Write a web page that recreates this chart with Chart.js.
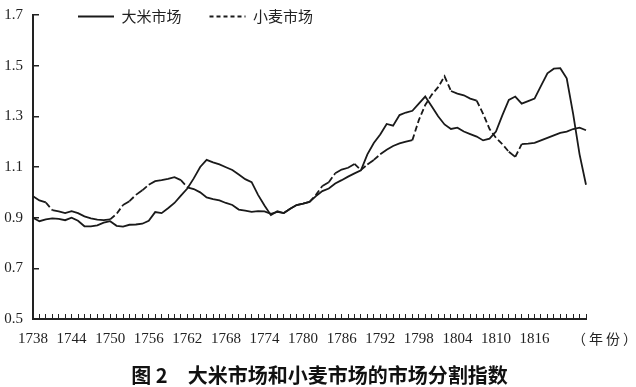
<!DOCTYPE html>
<html>
<head>
<meta charset="utf-8">
<script src="https://cdn.jsdelivr.net/npm/chart.js@4"></script>
<style>
  html, body { margin: 0; padding: 0; background: #fff; }
  #wrap { width: 636px; height: 387px; }
</style>
</head>
<body>
<div id="wrap"><canvas id="myChart" width="636" height="387"></canvas></div>
<script>
const years = [
  1738, 1739, 1740, 1741, 1742, 1743, 1744, 1745, 1746, 1747,
  1748, 1749, 1750, 1751, 1752, 1753, 1754, 1755, 1756, 1757,
  1758, 1759, 1760, 1761, 1762, 1763, 1764, 1765, 1766, 1767,
  1768, 1769, 1770, 1771, 1772, 1773, 1774, 1775, 1776, 1777,
  1778, 1779, 1780, 1781, 1782, 1783, 1784, 1785, 1786, 1787,
  1788, 1789, 1790, 1791, 1792, 1793, 1794, 1795, 1796, 1797,
  1798, 1799, 1800, 1801, 1802, 1803, 1804, 1805, 1806, 1807,
  1808, 1809, 1810, 1811, 1812, 1813, 1814, 1815, 1816, 1817,
  1818, 1819, 1820, 1821, 1822, 1823, 1824
];
const tickYears = [1738, 1744, 1750, 1756, 1762, 1768, 1774, 1780, 1786, 1792, 1798, 1804, 1810, 1816];
const yTicks = [0.5, 0.7, 0.9, 1.1, 1.3, 1.5, 1.7];

// 大米市场
const rice = [
  0.900, 0.886, 0.893, 0.897, 0.895, 0.890, 0.900, 0.888, 0.866, 0.866,
  0.870, 0.880, 0.886, 0.868, 0.865, 0.872, 0.873, 0.876, 0.888, 0.922,
  0.918, 0.937, 0.958, 0.987, 1.015, 1.055, 1.100, 1.128, 1.118, 1.110,
  1.099, 1.088, 1.070, 1.052, 1.040, 0.990, 0.948, 0.910, 0.925, 0.918,
  0.935, 0.950, 0.955, 0.962, 0.985, 1.005, 1.015, 1.035, 1.048, 1.062,
  1.075, 1.087, 1.150, 1.195, 1.228, 1.270, 1.263, 1.305, 1.315, 1.322,
  1.350, 1.378, 1.340, 1.300, 1.268, 1.250, 1.255, 1.240, 1.230, 1.220,
  1.205, 1.212, 1.240, 1.305, 1.365, 1.378, 1.350, 1.360, 1.370, 1.420,
  1.470, 1.488, 1.490, 1.450, 1.310, 1.150, 1.030
];

// 小麦市场
const wheat = [
  0.985, 0.968, 0.960, 0.930, 0.925, 0.918, 0.926, 0.918, 0.905, 0.897,
  0.892, 0.890, 0.893, 0.915, 0.950, 0.965, 0.990, 1.008, 1.030, 1.044,
  1.048, 1.053, 1.060, 1.048, 1.020, 1.013, 1.000, 0.980, 0.973, 0.968,
  0.958, 0.950, 0.932, 0.928, 0.923, 0.926, 0.925, 0.915, 0.923, 0.918,
  0.935, 0.950, 0.955, 0.962, 0.990, 1.025, 1.040, 1.075, 1.090, 1.097,
  1.112, 1.088, 1.110, 1.128, 1.150, 1.168, 1.183, 1.193, 1.200, 1.206,
  1.285, 1.345, 1.385, 1.415, 1.458, 1.400, 1.390, 1.383, 1.370, 1.362,
  1.310, 1.250, 1.215, 1.190, 1.160, 1.140, 1.190, 1.192, 1.195, 1.205,
  1.215, 1.225, 1.235, 1.240, 1.250, 1.255, 1.245
];

const serif = "'Liberation Serif', 'DejaVu Serif', serif";
const cjk = "'Noto Sans CJK SC', sans-serif";

// legend sits inside the plot, above the lines
const legendInPlot = {
  id: 'legendInPlot',
  beforeInit(chart) {
    const legend = chart.legend;
    const fit = legend.fit;
    legend.fit = function () {
      fit.call(this);
      this.height = 0;
    };
  },
  afterLayout(chart) {
    const legend = chart.legend;
    const pad = chart.options.plugins.legend.labels.padding;
    legend.left = 78 - pad;
    legend.top = 9 - pad;
    legend.right = chart.chartArea.right;
    legend.bottom = 40;
  }
};

// unit text after the last year label
const unitLabel = {
  id: 'unitLabel',
  afterDraw(chart) {
    const ctx = chart.ctx;
    const x = chart.scales.x;
    ctx.save();
    ctx.font = "14px " + cjk;
    ctx.fillStyle = '#222';
    ctx.textAlign = 'left';
    ctx.textBaseline = 'middle';
    ctx.letterSpacing = '3px';
    ctx.fillText('（年份）', x.right - 14, x.top + 20);
    ctx.restore();
  }
};

const steepDash = function (ctx) {
  const len = Math.hypot(ctx.p1.x - ctx.p0.x, ctx.p1.y - ctx.p0.y);
  return len > 8.5 ? [6, 3] : [];
};

const ctx = document.getElementById('myChart').getContext('2d');
new Chart(ctx, {
  type: 'line',
  data: {
    labels: years,
    datasets: [
      {
        label: '大米市场',
        data: rice,
        borderColor: '#1a1a1a',
        borderWidth: 1.8,
        pointRadius: 0,
        tension: 0,
        fill: false
      },
      {
        label: '小麦市场',
        data: wheat,
        borderColor: '#1a1a1a',
        borderWidth: 1.8,
        borderDash: [4, 3],
        pointRadius: 0,
        tension: 0,
        fill: false,
        segment: { borderDash: steepDash }
      }
    ]
  },
  options: {
    responsive: false,
    animation: false,
    layout: { padding: { top: 15, left: 3, right: 0, bottom: 0 } },
    scales: {
      x: {
        type: 'category',
        offset: false,
        border: { display: true, color: '#222', width: 2 },
        grid: {
          display: true,
          drawOnChartArea: false,
          drawTicks: true,
          tickLength: -5,
          color: '#222',
          lineWidth: 1
        },
        afterFit: function (scale) {
          scale.height = 30;
        },
        ticks: {
          autoSkip: false,
          maxRotation: 0,
          minRotation: 0,
          padding: 16,
          color: '#222',
          font: { family: serif, size: 15 },
          callback: function (value, index) {
            const yr = years[index];
            return tickYears.includes(yr) ? String(yr) : '';
          }
        }
      },
      y: {
        min: 0.5,
        max: 1.7,
        border: { display: true, color: '#222', width: 2 },
        grid: {
          display: true,
          drawOnChartArea: false,
          drawTicks: true,
          tickLength: -6,
          color: '#222',
          lineWidth: 1.5
        },
        afterBuildTicks: function (axis) {
          axis.ticks = yTicks.map(v => ({ value: v }));
        },
        afterFit: function (scale) {
          scale.width = 30;
          scale.paddingTop = 0;
          scale.paddingBottom = 0;
        },
        ticks: {
          padding: 16,
          color: '#222',
          font: { family: serif, size: 15 },
          callback: function (value) {
            return Number(value).toFixed(1);
          }
        }
      },
      // empty axis on the right, only keeps room for the unit text
      yRight: {
        position: 'right',
        min: 0,
        max: 1,
        border: { display: false },
        grid: { display: false },
        ticks: { display: false },
        afterFit: function (scale) {
          scale.width = 50;
        }
      }
    },
    plugins: {
      legend: {
        display: true,
        position: 'top',
        align: 'start',
        fullSize: false,
        labels: {
          usePointStyle: true,
          pointStyle: 'line',
          pointStyleWidth: 36,
          boxHeight: 2,
          padding: 28,
          color: '#222',
          font: { family: cjk, size: 15 },
          generateLabels: function (chart) {
            const items = Chart.defaults.plugins.legend.labels.generateLabels(chart);
            items.forEach(function (item, i) {
              item.lineWidth = 1.8;
              item.strokeStyle = '#1a1a1a';
              item.lineDash = i === 1 ? [4, 3] : [];
            });
            return items;
          }
        }
      },
      title: {
        display: true,
        position: 'bottom',
        text: '图 2　大米市场和小麦市场的市场分割指数',
        color: '#111',
        font: { family: cjk, size: 20, weight: 'bold' },
        padding: { top: 14, bottom: 0 }
      },
      tooltip: { enabled: false }
    }
  },
  plugins: [legendInPlot, unitLabel]
});
</script>
</body>
</html>
